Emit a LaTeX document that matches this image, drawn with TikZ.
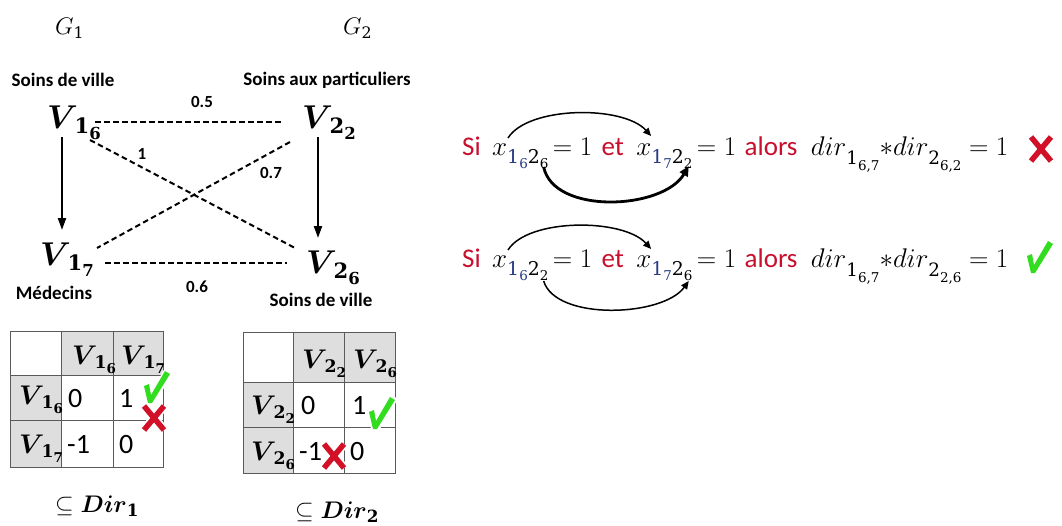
\RequirePackage{fix-cm}
\documentclass[tikz,border=0pt]{standalone}
\usepackage{amsmath,amssymb,bm}
\usepackage{fontspec}
\setmainfont{Carlito}
\newfontfamily\serif{DejaVu Serif}
\usetikzlibrary{arrows.meta}
\definecolor{eqred}{RGB}{200,16,46}
\definecolor{cellgray}{RGB}{222,222,222}
\definecolor{okgreen}{RGB}{50,220,30}
\definecolor{badred}{RGB}{210,16,40}
\definecolor{subblue}{RGB}{40,60,130}
\definecolor{tgray}{RGB}{90,90,90}
\makeatletter
% relative size: \rs{factor}{text}
\newcommand{\rs}[2]{{\fontsize{\strip@pt\dimexpr#1\dimexpr\f@size pt\relax\relax}{1pt}\selectfont #2}}
\makeatother
% bold V with two-level subscript
\newcommand{\Vn}[2]{\ensuremath{\bm{V}}\kern-0.1em\raisebox{-0.16em}{\serif\bfseries\rs{0.64}{#1}\raisebox{-0.18em}{\rs{0.5}{#2}}}}
% x with subscript i_a j_b
\newcommand{\Xn}[4]{\ensuremath{x}\raisebox{-0.3em}{\serif\textcolor{subblue}{\rs{0.7}{#1}\raisebox{-0.2em}{\rs{0.5}{#2}}}\rs{0.7}{#3}\raisebox{-0.2em}{\rs{0.5}{#4}}}}
% dir with subscript
\newcommand{\Dn}[2]{\ensuremath{dir}\raisebox{-0.36em}{\serif\rs{0.68}{#1}\raisebox{-0.2em}{\rs{0.5}{#2}}}}
\tikzset{
  lbl/.style={font=\fontsize{19}{22}\selectfont\bfseries, inner sep=0},
  wl/.style={font=\fontsize{17}{20}\selectfont\bfseries, inner sep=0},
  vn/.style={font=\fontsize{33}{36}\selectfont, inner sep=0, anchor=base west},
  tv/.style={font=\fontsize{27}{30}\selectfont, inner sep=0, anchor=base west},
  num/.style={font=\fontsize{28}{30}\selectfont, inner sep=0, anchor=base west},
  eq/.style={font=\fontsize{27}{30}\selectfont, inner sep=0, anchor=base west},
  dedge/.style={line width=2pt, dash pattern=on 5.5pt off 3.5pt},
  arr/.style={line width=2pt, -{Triangle[length=12pt,width=8pt]}},
  tline/.style={draw=tgray, line width=0.9pt},
  chk/.pic={\fill[white] (-8,-17) -- (-1,-20) -- (1,-9) -- (15,-34) -- (23,-29) -- (3,4) -- (-3,4) -- cycle;
            \fill[okgreen] (-6,-16) -- (-1,-18) -- (1,-7) -- (15,-31) -- (20,-28) -- (2,1) -- (-2,1) -- cycle;},
  crs/.pic={\draw[white, line width=9pt] (-10,-12) -- (10,12) (10,-12) -- (-10,12);
            \draw[badred, line width=5.5pt] (-10,-12) -- (10,12) (10,-12) -- (-10,12);}
}
\begin{document}
\begin{tikzpicture}[x=1pt,y=-1pt]
\useasboundingbox[fill=white] (0,0) rectangle (1062,525);

% ---------- graph ----------
\node[font=\fontsize{24}{26}\selectfont, inner sep=0, anchor=base west] (g1) at (55,34) {\ensuremath{G}\raisebox{-0.2em}{\serif\rs{0.66}{1}}};
\node[font=\fontsize{24}{26}\selectfont, inner sep=0, anchor=base west] (g2) at (343,34) {\ensuremath{G}\raisebox{-0.2em}{\serif\rs{0.66}{2}}};

\node[lbl] (l16) at (63,80) {Soins de ville};
\node[lbl] (l22) at (327,80) {Soins aux particuliers};
\node[lbl] (l17) at (54,293) {Médecins};
\node[lbl] (l26) at (321,300) {Soins de ville};

\node[vn] (v16) at (47,128) {\Vn{1}{6}};
\node[vn] (v22) at (302,128) {\Vn{2}{2}};
\node[vn] (v17) at (40,265) {\Vn{1}{7}};
\node[vn] (v26) at (306,273) {\Vn{2}{6}};

\draw[arr] ([shift={(15pt,-9pt)}]v16.base west) -- ([shift={(22pt,35pt)}]v17.base west);
\draw[arr] ([shift={(16pt,-9pt)}]v22.base west) -- ([shift={(12pt,35pt)}]v26.base west);

\draw[dedge] ([shift={(48pt,6pt)}]v16.base west) -- ([shift={(-19pt,6pt)}]v22.base west);
\draw[dedge] ([shift={(43pt,-12pt)}]v16.base west) -- ([shift={(-11pt,25pt)}]v26.base west);
\draw[dedge] ([shift={(-12pt,-14pt)}]v22.base west) -- ([shift={(57pt,17pt)}]v17.base west);
\draw[dedge] ([shift={(65pt,2pt)}]v17.base west) -- ([shift={(-19pt,10pt)}]v26.base west);

\node[wl] (w05) at (202,102) {0.5};
\node[wl] (w1) at (142,154) {1};
\node[wl] (w07) at (271,173) {0.7};
\node[wl] (w06) at (197,287) {0.6};

% ---------- table 1 ----------
\fill[cellgray] (61,331) rectangle (163,375);
\fill[cellgray] (10,375) rectangle (61,467);
\draw[tline] (10,331) rectangle (163,467);
\draw[tline] (61,331) -- (61,467) (113,331) -- (113,467) (10,375) -- (163,375) (10,420) -- (163,420);
\node[tv] (t1c1) at (72,364) {\Vn{1}{6}};
\node[tv] (t1c2) at (121,364) {\Vn{1}{7}};
\node[tv] (t1r1) at (19,404) {\Vn{1}{6}};
\node[tv] (t1r2) at (19,453) {\Vn{1}{7}};
\node[num] (t1a) at (68,407) {0};
\node[num] (t1b) at (119,407) {1};
\node[num] (t1c) at (67,453) {-1};
\node[num] (t1d) at (119,453) {0};
\pic at (150,402) {chk};
\pic at (154,418) {crs};
\node[font=\fontsize{24}{26}\selectfont, inner sep=0, anchor=base west] (dir1) at (55,512) {$\subseteq\bm{Dir}$\raisebox{-0.17em}{\serif\bfseries\rs{0.7}{1}}};

% ---------- table 2 ----------
\fill[cellgray] (293,332) rectangle (395,382);
\fill[cellgray] (243,382) rectangle (293,473);
\draw[tline] (243,332) rectangle (395,473);
\draw[tline] (293,332) -- (293,473) (344,332) -- (344,473) (243,382) -- (395,382) (243,427) -- (395,427);
\node[tv] (t2c1) at (302,368) {\Vn{2}{2}};
\node[tv] (t2c2) at (353,368) {\Vn{2}{6}};
\node[tv] (t2r1) at (251,414) {\Vn{2}{2}};
\node[tv] (t2r2) at (251,460) {\Vn{2}{6}};
\node[num] (t2a) at (301,414) {0};
\node[num] (t2b) at (352,414) {1};
\node[num] (t2c) at (299,460) {-1};
\node[num] (t2d) at (350,460) {0};
\pic at (375,428) {chk};
\pic at (334,456) {crs};
\node[font=\fontsize{24}{26}\selectfont, inner sep=0, anchor=base west] (dir2) at (295,518) {$\subseteq\bm{Dir}$\raisebox{-0.17em}{\serif\bfseries\rs{0.7}{2}}};

% ---------- equations ----------
\node[eq, text=eqred] (si1) at (462,155) {Si};
\node[eq] (xa1) at ([xshift=11pt]si1.base east) {\Xn{1}{6}{2}{6}};
\node[eq] (eqa1) at ([xshift=4pt]xa1.base east) {$=1$};
\node[eq, text=eqred] (et1) at ([xshift=9pt]eqa1.base east) {et};
\node[eq] (xb1) at ([xshift=12pt]et1.base east) {\Xn{1}{7}{2}{2}};
\node[eq] (eqb1) at ([xshift=4pt]xb1.base east) {$=1$};
\node[eq, text=eqred] (al1) at ([xshift=8pt]eqb1.base east) {alors};
\node[eq] (d1) at ([xshift=13pt]al1.base east) {\Dn{1}{6,7}$\ast$\Dn{2}{6,2}$\;=1$};
\pic at (1041,149) {crs};

\coordinate (p1a) at ([shift={(16pt,17pt)}]xa1.base west);
\coordinate (p1b) at ([shift={(15pt,19pt)}]xb1.base west);
\coordinate (q1a) at ([shift={(-5pt,-12pt)}]xa1.base east);
\coordinate (q1b) at ([shift={(-4pt,-11pt)}]xb1.base east);
\draw[line width=1.5pt, -{Triangle[length=8pt,width=7pt]}] (p1a) .. controls +(20,-32) and +(-28,-31) .. (p1b);
\draw[line width=2.8pt, -{Triangle[length=10pt,width=9pt]}] (q1a) .. controls +(10,48) and +(-26,44) .. (q1b);

\node[eq, text=eqred] (si2) at (462,267) {Si};
\node[eq] (xa2) at ([xshift=11pt]si2.base east) {\Xn{1}{6}{2}{2}};
\node[eq] (eqa2) at ([xshift=4pt]xa2.base east) {$=1$};
\node[eq, text=eqred] (et2) at ([xshift=9pt]eqa2.base east) {et};
\node[eq] (xb2) at ([xshift=12pt]et2.base east) {\Xn{1}{7}{2}{6}};
\node[eq] (eqb2) at ([xshift=4pt]xb2.base east) {$=1$};
\node[eq, text=eqred] (al2) at ([xshift=8pt]eqb2.base east) {alors};
\node[eq] (d2) at ([xshift=13pt]al2.base east) {\Dn{1}{6,7}$\ast$\Dn{2}{2,6}$\;=1$};
\pic at (1033,272) {chk};

\coordinate (p2a) at ([shift={(16pt,17pt)}]xa2.base west);
\coordinate (p2b) at ([shift={(15pt,18pt)}]xb2.base west);
\coordinate (q2a) at ([shift={(-5pt,-14pt)}]xa2.base east);
\coordinate (q2b) at ([shift={(-4pt,-14pt)}]xb2.base east);
\draw[line width=1.5pt, -{Triangle[length=8pt,width=7pt]}] (p2a) .. controls +(20,-32) and +(-28,-31) .. (p2b);
\draw[line width=1.5pt, -{Triangle[length=8pt,width=7pt]}] (q2a) .. controls +(12,40) and +(-26,36) .. (q2b);
\end{tikzpicture}
\end{document}
